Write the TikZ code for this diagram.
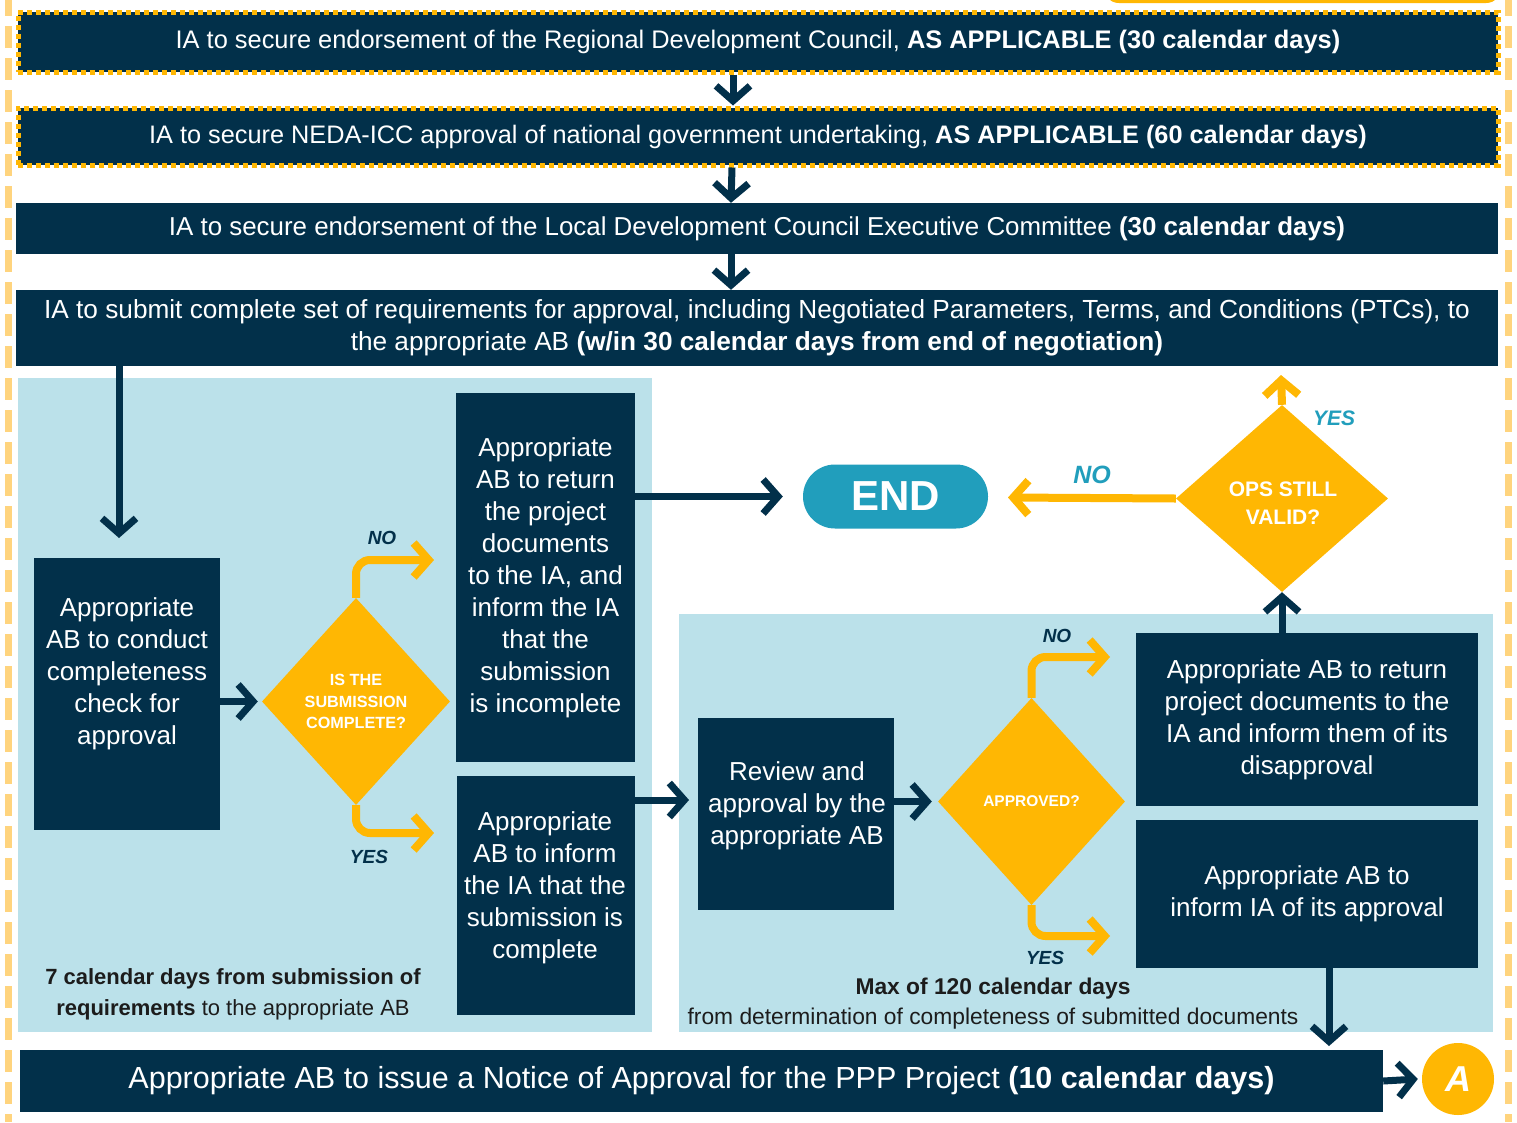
\documentclass[tikz,border=0pt]{standalone}
\usepackage{fontspec}
\setmainfont{Liberation Sans}
\usetikzlibrary{shapes.geometric,arrows.meta,calc}
\definecolor{navy}{HTML}{02304A}
\definecolor{amber}{HTML}{FFB703}
\definecolor{skyblue}{HTML}{219EBC}
\definecolor{panel}{HTML}{BBE1EA}
\definecolor{sideamber}{HTML}{FFD47E}
\definecolor{inkdark}{HTML}{1C1C1C}
\newcommand{\fsz}[2]{\fontsize{#1}{#2}\selectfont}
\begin{document}
\begin{tikzpicture}[x=1pt,y=-1pt,
  bar/.style={fill=navy, text=white, inner sep=0pt, align=center},
  vbox/.style={fill=navy, text=white, inner sep=0pt, align=center, font=\fsz{26}{32}},
  vtext/.style={align=center, text=white, inner sep=0pt, font=\fsz{26}{32}},
  dashedge/.style={draw=amber, line width=5pt, dash pattern=on 5pt off 4pt},
  navyarrow/.style={draw=navy, line width=7pt, -{Straight Barb[length=15pt,width=34pt]}},
  amberarrow/.style={draw=amber, line width=8pt, rounded corners=14pt, -{Straight Barb[length=15pt,width=34pt]}},
  decision/.style={diamond, fill=amber, text=white, inner sep=0pt, aspect=1, align=center},
  branchlbl/.style={font=\fsz{19}{22}\bfseries\itshape, text=navy},
  bluelbl/.style={font=\fsz{21}{24}\bfseries\itshape, text=skyblue},
  note/.style={align=center, text=inkdark},
]
\useasboundingbox (0,0) rectangle (1517,1122);
\fill[white] (0,0) rectangle (1517,1122);
% frame
\draw[sideamber, line width=7pt, dash pattern=on 22pt off 10pt] (8,-6) -- (8,1122);
\draw[sideamber, line width=7pt, dash pattern=on 22pt off 10pt] (1508,-6) -- (1508,1122);
\draw[amber, line width=4pt, rounded corners=14pt] (1105,-40) rectangle (1500,1);
% panels
\fill[panel] (18,378) rectangle (652,1032);
\fill[panel] (679,614) rectangle (1493,1032);
% top bars
\node[bar, dashedge, minimum width=1480pt, minimum height=60pt, font=\fsz{25.4}{32}] (b1) at (758,42)
  {IA to secure endorsement of the Regional Development Council, \textbf{AS APPLICABLE (30 calendar days)}};
\node[bar, dashedge, minimum width=1480pt, minimum height=57pt, font=\fsz{25.3}{32}] (b2) at (758,136.5)
  {IA to secure NEDA-ICC approval of national government undertaking, \textbf{AS APPLICABLE (60 calendar days)}};
\node[bar, minimum width=1482pt, minimum height=51pt, font=\fsz{25.9}{32}] (b3) at (757,228.5)
  {IA to secure endorsement of the Local Development Council Executive Committee \textbf{(30 calendar days)}};
\node[bar, minimum width=1482pt, minimum height=76pt, font=\fsz{26.2}{32}] (b4) at (757,328)
  {IA to submit complete set of requirements for approval, including Negotiated Parameters, Terms, and Conditions (PTCs), to\\
   the appropriate AB \textbf{(w/in 30 calendar days from end of negotiation)}};
% left panel
\node[vbox, minimum width=186pt, minimum height=272pt] (b5) at (127,694) {};
\node[vtext] (b5t) at (127,674)
  {Appropriate\\AB to conduct\\completeness\\check for\\approval};
\node[decision, minimum width=188pt, minimum height=207pt, font=\fsz{16.2}{21.5}\bfseries] (d1) at (356,701.5)
  {IS THE\\SUBMISSION\\COMPLETE?};
\node[vbox, minimum width=179pt, minimum height=369pt] (b6) at (545.5,577.5)
  {Appropriate\\AB to return\\the project\\documents\\to the IA, and\\inform the IA\\that the\\submission\\is incomplete};
\node[vbox, minimum width=178pt, minimum height=239pt] (b7) at (546,895.5) {};
\node[vtext] (b7t) at (545,888)
  {Appropriate\\AB to inform\\the IA that the\\submission is\\complete};
\node[note, font=\fsz{22}{31}] (n1) at (233,994)
  {\textbf{7 calendar days from submission of}\\\textbf{requirements} to the appropriate AB};
% END
\node[fill=skyblue, text=white, rounded corners=32pt, minimum width=185pt, minimum height=64pt,
      font=\fsz{42}{42}\bfseries] (end) at (895.5,496.5) {END};
% right panel
\node[vbox, minimum width=196pt, minimum height=192pt] (b8) at (796,814) {};
\node[vtext] (b8t) at (797,806)
  {Review and\\approval by the\\appropriate AB};
\node[decision, minimum width=187pt, minimum height=207pt, font=\fsz{15.5}{21}\bfseries] (d2) at (1031.5,801.5)
  {APPROVED?};
\node[vbox, minimum width=342pt, minimum height=173pt] (b9) at (1307,719.5)
  {Appropriate AB to return\\project documents to the\\IA and inform them of its\\disapproval};
\node[vbox, minimum width=342pt, minimum height=148pt] (b10) at (1307,894)
  {Appropriate AB to\\inform IA of its approval};
\node[decision, minimum width=212pt, minimum height=187pt] (d3) at (1282,498.5) {};
\node[align=center, text=white, inner sep=0pt, font=\fsz{21}{28}\bfseries] (d3t) at (1283,503)
  {OPS STILL\\VALID?};
\node[note, font=\fsz{22.8}{30}] (n2) at (993,1003.5)
  {\textbf{Max of 120 calendar days}\\from determination of completeness of submitted documents};
% bottom
\node[bar, minimum width=1363pt, minimum height=62pt, font=\fsz{30.5}{32}] (b11) at (701.5,1081)
  {Appropriate AB to issue a Notice of Approval for the PPP Project \textbf{(10 calendar days)}};
\node[circle, fill=amber, text=white, minimum size=72pt, inner sep=0pt, font=\fsz{36}{36}\bfseries\itshape] (ca) at (1458,1079) {A};
% coordinates
\coordinate (c45) at (119,538);
\coordinate (d1no) at (434,560);
\coordinate (d1yes) at (434,833);
\coordinate (c78) at (689,800);
\coordinate (d2no) at (1110,657);
\coordinate (d2yes) at (1110,936);
\coordinate (d3yes) at (1281,375);
\coordinate (d3no) at (1008,497.5);
\coordinate (c1011) at (1329,1046);
% connectors
\draw[navyarrow] ([xshift=-25pt]b1.south) -- ([xshift=-25pt]b2.north);
\draw[navyarrow] ([xshift=-26pt]b2.south) -- ([xshift=-26pt]b3.north);
\draw[navyarrow] ([xshift=-26pt]b3.south) -- ([xshift=-26pt]b4.north);
\draw[navyarrow] (c45 |- b4.south) -- (c45);
\draw[navyarrow] (b5.east |- d1.west) -- ([xshift=-4pt]d1.west);
\draw[amberarrow] (d1.north) |- (d1no);
\draw[amberarrow] (d1.south) |- (d1yes);
\draw[navyarrow] (b6.east |- end.west) -- ([xshift=-20pt]end.west);
\draw[navyarrow] (b7.east |- c78) -- (c78);
\draw[navyarrow] (b8.east |- d2.west) -- ([xshift=-6pt]d2.west);
\draw[amberarrow] (d2.north) |- (d2no);
\draw[amberarrow] (d2.south) |- (d2yes);
\draw[navyarrow] (b9.north -| d3.south) -- (d3.south);
\draw[amberarrow] (d3.north) -- (d3yes);
\draw[amberarrow] (d3.west) -- (d3no);
\draw[navyarrow] (c1011 |- b10.south) -- (c1011);
\draw[navyarrow] (b11.east) -- ([xshift=-4pt]ca.west);
% branch labels
\node[branchlbl] (l1) at (382,538) {NO};
\node[branchlbl] (l2) at (369,857) {YES};
\node[branchlbl] (l3) at (1057,636) {NO};
\node[branchlbl] (l4) at (1045,958) {YES};
\node[bluelbl] (l5) at (1334,418) {YES};
\node[bluelbl, font=\fsz{25}{28}\bfseries\itshape] (l6) at (1092,475) {NO};
\end{tikzpicture}
\end{document}
